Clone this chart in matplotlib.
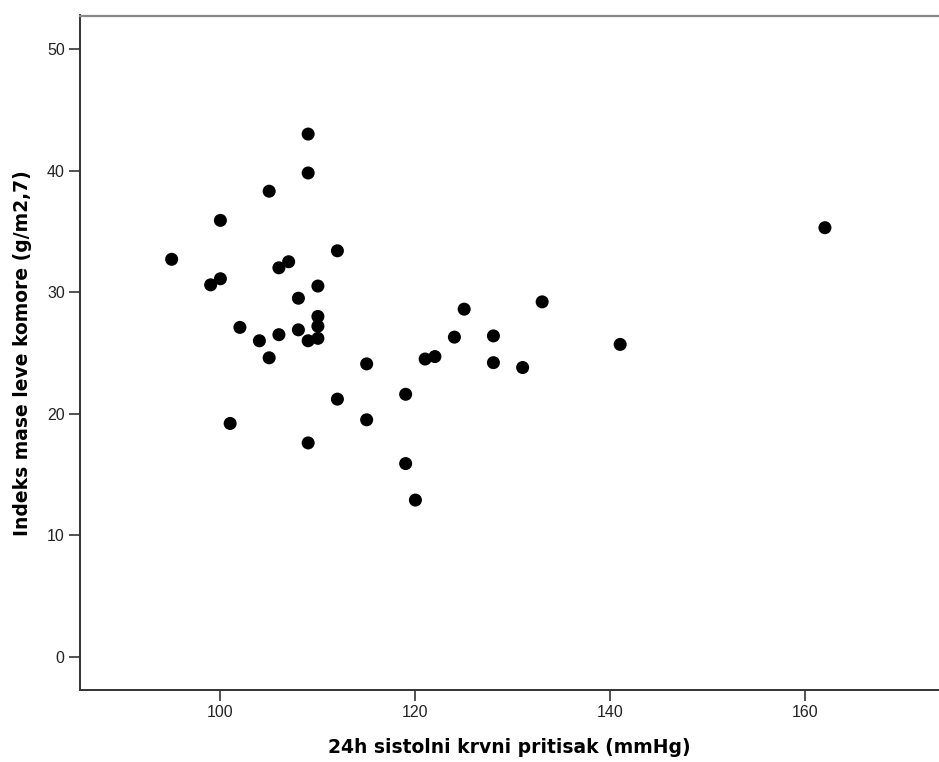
import matplotlib
matplotlib.use("Agg")
import matplotlib.pyplot as plt

# 24h systolic blood pressure (mmHg) and left ventricular mass index (g/m2,7)
systolic = [95, 99, 100, 100, 101, 102, 104, 105, 105, 106, 106, 107, 108, 108,
            109, 109, 109, 109, 110, 110, 110, 110, 112, 112, 115, 115, 119, 119,
            120, 121, 122, 124, 125, 128, 128, 131, 133, 141, 162]
lv_mass_index = [32.7, 30.6, 31.1, 35.9, 19.2, 27.1, 26.0, 24.6, 38.3, 26.5, 32.0, 32.5, 26.9, 29.5,
                 43.0, 39.8, 26.0, 17.6, 30.5, 28.0, 27.2, 26.2, 33.4, 21.2, 24.1, 19.5, 21.6, 15.9,
                 12.9, 24.5, 24.7, 26.3, 28.6, 26.4, 24.2, 23.8, 29.2, 25.7, 35.3]

x_ticks = [100, 120, 140, 160]
y_ticks = [0, 10, 20, 30, 40, 50]

plt.rcParams['font.family'] = ['Liberation Sans', 'DejaVu Sans']

fig = plt.figure(figsize=(9.39, 7.62), dpi=100)
ax = fig.add_axes([80 / 939, 1 - 690 / 762, 1 - 80 / 939, (690 - 15.5) / 762])

ax.scatter(systolic, lv_mass_index, s=88, color='black', edgecolors='none', zorder=3)

ax.set_xlim(85.6, 173.7)
ax.set_ylim(-2.72, 52.75)
ax.set_xticks(x_ticks)
ax.set_yticks(y_ticks)

ax.tick_params(axis='both', direction='out', length=8, width=1.2, color='#333333',
               labelsize=11.5, labelcolor='#222222', pad=3)

for side in ('left', 'bottom'):
    ax.spines[side].set_color('#333333')
    ax.spines[side].set_linewidth(1.4)
ax.spines['top'].set_color('#888888')
ax.spines['top'].set_linewidth(1.6)
ax.spines['right'].set_visible(False)

label_font = dict(family='DejaVu Sans', fontsize=13.5, fontweight='bold')
ax.set_xlabel('24h sistolni krvni pritisak (mmHg)', labelpad=13, **label_font)
ax.set_ylabel('Indeks mase leve komore (g/m2,7)', labelpad=11, **label_font)

fig.savefig('out.png', dpi=100)
